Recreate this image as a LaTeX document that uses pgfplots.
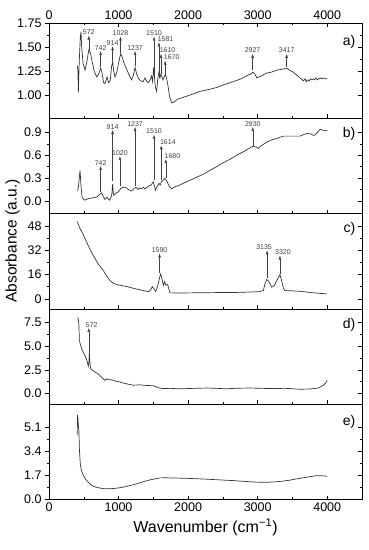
\documentclass[border=0pt]{standalone}
\usepackage{fontspec}
\setmainfont{Liberation Sans}
\usepackage{pgfplots}
\pgfplotsset{compat=1.18}
\usetikzlibrary{arrows.meta}
\pgfplotsset{
  base/.style={width=313pt,height=95.3pt,scale only axis,
    xmin=0,xmax=4500,xtick={0,1000,2000,3000,4000},
    minor x tick num=1, minor y tick num=1,
    tick style={black,line width=0.5pt},
    major tick length=4pt, minor tick length=2.2pt,
    axis line style={line width=0.7pt},
    tick label style={font=\fontsize{12.5}{14}\selectfont},
    /pgf/number format/assume math mode=true,
    xtick align=inside, ytick align=outside,
    ytick pos=left, xtick pos=bottom, xticklabels={},
    clip=false},
  rightticks/.style={ytick pos=right, ytick align=inside, xtick=\empty,
    yticklabels={}, axis line style={draw=none}},
  curve/.style={black!80,line width=0.7pt,mark=none},
}
\tikzset{
  arr/.style={-{Latex[length=4pt,width=2.8pt]},line width=0.45pt,black!75},
  lab/.style={font=\fontsize{7}{8}\selectfont,inner sep=0.6pt,anchor=south},
  lbl/.style={font=\fontsize{14}{16}\selectfont,anchor=east}
}
\newcommand{\ann}[4][]{\draw[arr] (axis cs:#2,#3) -- (axis cs:#2,#4) node[lab,#1]{#2};}
\begin{document}
\begin{tikzpicture}
\path (-49pt,23pt) rectangle (317pt,-527pt);
% ---------------- a
\begin{axis}[base, at={(0pt,0pt)}, anchor=north west,
  ymin=0.76, ymax=1.75, ytick={1,1.25,1.5,1.75}, yticklabels={1.00,1.25,1.50,1.75},
  xtick pos=both, xticklabel pos=right, xticklabels={0,1000,2000,3000,4000}]
\addplot[curve] table {
407 1.31
416 1.25
422 1.03
435 1.35
450 1.60
460 1.66
470 1.50
490 1.33
518 1.26
545 1.35
572 1.47
595 1.44
620 1.35
650 1.25
685 1.19
715 1.22
742 1.28
760 1.24
785 1.13
805 1.12
835 1.19
855 1.13
880 1.15
900 1.30
915 1.35
930 1.25
949 1.19
975 1.24
1000 1.33
1028 1.43
1050 1.40
1080 1.33
1110 1.28
1140 1.23
1160 1.20
1188 1.16
1210 1.20
1237 1.29
1260 1.22
1290 1.17
1320 1.15
1352 1.14
1380 1.18
1400 1.15
1430 1.13
1455 1.16
1475 1.20
1490 1.14
1505 1.29
1515 1.20
1530 1.08
1548 1.04
1565 1.18
1581 1.24
1595 1.18
1610 1.22
1625 1.19
1640 1.16
1660 1.20
1675 1.21
1690 1.18
1710 1.10
1735 0.98
1764 0.92
1800 0.93
1850 0.96
1900 0.97
1980 0.99
2100 1.02
2171 1.04
2300 1.06
2411 1.08
2520 1.11
2647 1.14
2760 1.17
2863 1.21
2900 1.22
2929 1.24
2960 1.22
2986 1.18
3050 1.20
3130 1.23
3200 1.24
3274 1.26
3350 1.27
3417 1.28
3460 1.26
3510 1.24
3560 1.21
3609 1.18
3640 1.16
3657 1.15
3680 1.17
3700 1.14
3720 1.16
3740 1.15
3760 1.17
3780 1.16
3800 1.17
3820 1.16
3840 1.18
3860 1.16
3880 1.17
3900 1.18
3920 1.17
3940 1.18
3960 1.17
3980 1.17
4000 1.17
};
\ann{572}{1.47}{1.62}
\ann{742}{1.29}{1.46}
\ann{914}{1.36}{1.51}
\ann{1028}{1.44}{1.61}
\ann{1237}{1.30}{1.46}
\ann{1510}{1.20}{1.61}
\ann[anchor=south west,xshift=-2pt]{1581}{1.18}{1.55}
\ann[anchor=south west,xshift=-2pt]{1610}{1.22}{1.43}
\ann[anchor=south west,xshift=-2pt]{1670}{1.21}{1.36}
\ann{2927}{1.26}{1.43}
\ann{3417}{1.29}{1.43}
\node[lbl] at (rel axis cs:0.99,0.80) {a)};
\end{axis}
\begin{axis}[base, rightticks, at={(0pt,0pt)}, anchor=north west,
  ymin=0.76, ymax=1.75, ytick={1,1.25,1.5,1.75}, xtick pos=both]
\end{axis}
% ---------------- b
\begin{axis}[base, at={(0pt,-95.3pt)}, anchor=north west,
  ymin=-0.166, ymax=1.084, ytick={0,0.3,0.6,0.9}, yticklabels={0.0,0.3,0.6,0.9}]
\addplot[curve] table {
412 0.13
425 0.20
446 0.40
460 0.20
475 0.05
508 0.01
565 0.03
620 0.04
686 0.05
720 0.08
757 0.105
780 0.06
805 0.02
835 0.05
867 0.01
890 0.04
905 0.10
915 0.22
925 0.10
934 0.075
960 0.10
997 0.12
1030 0.16
1059 0.18
1100 0.18
1140 0.15
1188 0.13
1220 0.16
1251 0.18
1280 0.15
1300 0.17
1330 0.16
1352 0.18
1380 0.16
1410 0.18
1440 0.20
1470 0.21
1485 0.23
1500 0.25
1515 0.20
1530 0.14
1560 0.20
1581 0.23
1600 0.21
1614 0.25
1640 0.27
1668 0.295
1700 0.25
1730 0.19
1764 0.16
1820 0.19
1884 0.21
1950 0.24
2027 0.27
2120 0.31
2219 0.35
2310 0.40
2411 0.45
2500 0.50
2599 0.545
2700 0.60
2793 0.645
2880 0.69
2937 0.72
2970 0.71
3009 0.69
3060 0.73
3130 0.77
3200 0.80
3274 0.82
3369 0.85
3450 0.85
3530 0.85
3609 0.85
3660 0.87
3705 0.885
3760 0.88
3800 0.86
3824 0.865
3860 0.90
3896 0.94
3930 0.93
3968 0.92
4000 0.925
};
\ann{742}{0.12}{0.46}
\ann{914}{0.26}{0.93}
\ann{1020}{0.19}{0.59}
\ann{1237}{0.19}{0.97}
\ann{1510}{0.27}{0.87}
\ann[anchor=south west,xshift=-2pt]{1614}{0.27}{0.73}
\ann[anchor=south west,xshift=-2pt]{1680}{0.30}{0.55}
\ann{2930}{0.72}{0.97}
\node[lbl] at (rel axis cs:0.99,0.84) {b)};
\end{axis}
\begin{axis}[base, rightticks, at={(0pt,-95.3pt)}, anchor=north west,
  ymin=-0.166, ymax=1.084, ytick={0,0.3,0.6,0.9}]
\end{axis}
% ---------------- c
\begin{axis}[base, at={(0pt,-190.6pt)}, anchor=north west,
  ymin=-6.6, ymax=56.2, ytick={0,16,32,48}]
\addplot[curve] table {
407 51
440 47
480 43.5
518 39.7
560 35.5
600 31.8
637 28.6
700 23.5
781 18.7
830 15
877 12.1
920 10.4
973 9.45
1069 8.6
1150 7.8
1212 7.0
1290 6.2
1356 5.5
1428 4.8
1460 5.8
1486 8.1
1510 6.5
1534 4.9
1560 8
1590 14
1606 16.5
1625 13
1644 8.8
1663 11.4
1680 9
1706 9.5
1720 7
1740 3.96
1900 3.9
2100 4.0
2300 4.1
2500 4.2
2650 4.2
2800 4.4
2950 4.6
3034 4.8
3082 5.5
3105 10
3130 12.8
3160 11.5
3202 7.7
3240 8.8
3280 12.5
3321 15.9
3345 12
3370 7
3393 5.5
3500 5.3
3609 5.0
3800 4.0
3993 3.3
};
\ann{1590}{17}{30}
\ann[xshift=-3pt]{3135}{13.5}{32}
\ann[xshift=3pt]{3320}{16.5}{28.5}
\node[lbl] at (rel axis cs:0.99,0.84) {c)};
\end{axis}
\begin{axis}[base, rightticks, at={(0pt,-190.6pt)}, anchor=north west,
  ymin=-6.6, ymax=56.2, ytick={0,16,32,48}]
\end{axis}
% ---------------- d
\begin{axis}[base, at={(0pt,-285.9pt)}, anchor=north west,
  ymin=-1.12, ymax=8.9, ytick={0,2.5,5,7.5}, yticklabels={0.0,2.5,5.0,7.5}]
\addplot[curve] table {
412 8.0
420 7.9
431 7.15
436 5.6
450 5.2
470 4.7
495 4.3
518 4.0
540 3.6
551 3.3
565 2.86
575 3.4
580 4.36
588 3.3
599 2.6
630 2.45
661 2.26
700 2.1
733 1.9
770 1.6
805 1.39
830 1.55
853 1.44
900 1.45
949 1.32
1000 1.25
1069 1.1
1130 1.0
1212 0.87
1300 0.92
1404 0.85
1500 0.82
1580 0.60
1644 0.52
1750 0.55
1850 0.50
1980 0.52
2100 0.55
2267 0.58
2400 0.55
2555 0.50
2700 0.56
2890 0.58
3050 0.55
3225 0.52
3400 0.55
3609 0.45
3750 0.48
3872 0.58
3944 0.87
3975 1.1
4000 1.39
};
\ann[xshift=3pt]{572}{4.4}{6.9}
\node[lbl] at (rel axis cs:0.99,0.83) {d)};
\end{axis}
\begin{axis}[base, rightticks, at={(0pt,-285.9pt)}, anchor=north west,
  ymin=-1.12, ymax=8.9, ytick={0,2.5,5,7.5}]
\end{axis}
% ---------------- e
\begin{axis}[base, at={(0pt,-381.2pt)}, anchor=north west,
  ymin=0, ymax=6.75, ytick={0,1.7,3.4,5.1}, yticklabels={0.0,1.7,3.4,5.1},
  xticklabels={0,1000,2000,3000,4000},
  xlabel={Wavenumber (cm\textsuperscript{−1})},
  xlabel style={font=\fontsize{16}{18}\selectfont}]
\addplot[curve] table {
407 4.6
410 6.0
415 5.8
420 5.4
431 4.8
436 3.67
450 2.5
465 2.1
484 1.81
510 1.55
542 1.34
580 1.15
614 1.0
660 0.9
709 0.835
781 0.77
850 0.76
925 0.78
1000 0.82
1069 0.88
1160 0.98
1260 1.11
1350 1.25
1452 1.39
1530 1.47
1596 1.53
1680 1.54
1740 1.53
1980 1.50
2267 1.44
2450 1.39
2650 1.34
2850 1.27
2986 1.23
3130 1.22
3250 1.25
3321 1.28
3450 1.36
3561 1.46
3752 1.62
3848 1.69
3930 1.68
4000 1.65
};
\node[lbl] at (rel axis cs:0.99,0.81) {e)};
\end{axis}
\begin{axis}[base, rightticks, at={(0pt,-381.2pt)}, anchor=north west,
  ymin=0, ymax=6.75, ytick={0,1.7,3.4,5.1}]
\end{axis}
\node[rotate=90,font=\fontsize{15.5}{18}\selectfont] at (-36.5pt,-218pt) {Absorbance (a.u.)};
\end{tikzpicture}
\end{document}
